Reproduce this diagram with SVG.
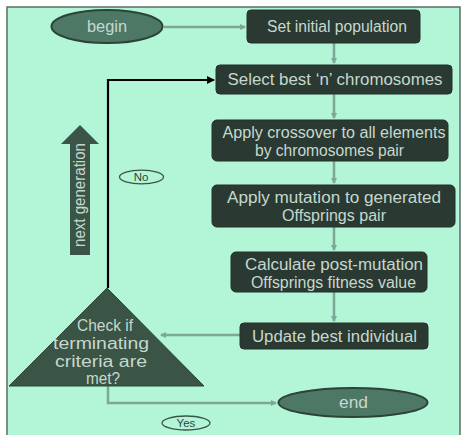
<svg xmlns="http://www.w3.org/2000/svg" width="463" height="435" viewBox="0 0 463 435">
  <style>
    .box { fill: #2a3a32; stroke: #22302a; stroke-width: 1; }
    .oval { fill: #4e7866; stroke: #2c4438; stroke-width: 2; }
    .tag { fill: none; stroke: #3a5448; stroke-width: 1.3; }
    .bt { font-family: "Liberation Sans", Arial, sans-serif; font-size: 16px; fill: #c6d8ce; text-anchor: middle; }
    .small { font-family: "Liberation Sans", Arial, sans-serif; font-size: 11.5px; fill: #2f463b; text-anchor: middle; }
    .flow { fill: none; stroke: #7ea797; stroke-width: 2.5; }
    .loop { fill: none; stroke: #000000; stroke-width: 2.2; }
  </style>
  <defs>
    <marker id="ah" markerWidth="6" markerHeight="6" refX="5" refY="3" orient="auto" markerUnits="userSpaceOnUse">
      <path d="M0,0 L6,3 L0,6 Z" fill="#7ea797"/>
    </marker>
    <marker id="ahb" markerWidth="8" markerHeight="8" refX="7" refY="4" orient="auto" markerUnits="userSpaceOnUse">
      <path d="M0,0 L8,4 L0,8 Z" fill="#000000"/>
    </marker>
  </defs>

  <!-- page background and frame -->
  <rect x="0" y="0" width="463" height="435" fill="#ffffff"/>
  <rect x="7" y="7" width="453" height="432" fill="#b2f5d7" stroke="#5c6e66" stroke-width="1.5"/>

  <!-- connectors -->
  <g id="connectors">
    <line class="flow" x1="164" y1="27" x2="245" y2="27" marker-end="url(#ah)"/>
    <line class="flow" x1="334" y1="43" x2="334" y2="63" marker-end="url(#ah)"/>
    <line class="flow" x1="334" y1="94" x2="334" y2="118" marker-end="url(#ah)"/>
    <line class="flow" x1="334" y1="161" x2="334" y2="183" marker-end="url(#ah)"/>
    <line class="flow" x1="334" y1="227" x2="334" y2="250" marker-end="url(#ah)"/>
    <line class="flow" x1="334" y1="292" x2="334" y2="321" marker-end="url(#ah)"/>
    <line class="flow" x1="240" y1="335" x2="161" y2="335" marker-end="url(#ah)"/>
    <polyline class="flow" points="108,386 108,403 276,403" marker-end="url(#ah)"/>
    <polyline class="loop" points="108,288 108,80 214,80" marker-end="url(#ahb)"/>
  </g>

  <!-- next generation indicator -->
  <g id="next-generation">
    <path d="M80,125 L99,144 L90,144 L90,255 L70,255 L70,144 L61,144 Z" fill="#3a5548"/>
    <text class="bt" font-size="14" transform="translate(85,195) rotate(-90)" textLength="104" lengthAdjust="spacingAndGlyphs">next generation</text>
  </g>

  <g id="begin">
    <ellipse class="oval" cx="107" cy="26.5" rx="55.5" ry="16.5"/>
    <text class="bt" x="107" y="32" textLength="40" lengthAdjust="spacingAndGlyphs">begin</text>
  </g>

  <g id="set-population">
    <rect class="box" x="247" y="10" width="173" height="33" rx="4"/>
    <text class="bt" x="337" y="32" textLength="140" lengthAdjust="spacingAndGlyphs">Set initial population</text>
  </g>

  <g id="select-best">
    <rect class="box" x="216" y="65" width="236" height="29" rx="4"/>
    <text class="bt" x="335" y="85" textLength="215" lengthAdjust="spacingAndGlyphs">Select best ‘n’ chromosomes</text>
  </g>

  <g id="crossover">
    <rect class="box" x="212" y="120" width="236" height="41" rx="5"/>
    <text class="bt" x="334" y="138" textLength="223" lengthAdjust="spacingAndGlyphs">Apply crossover to all elements</text>
    <text class="bt" x="329.5" y="156" textLength="149" lengthAdjust="spacingAndGlyphs">by chromosomes pair</text>
  </g>

  <g id="mutation">
    <rect class="box" x="212" y="185" width="243" height="42" rx="5"/>
    <text class="bt" x="334" y="203" textLength="214" lengthAdjust="spacingAndGlyphs">Apply mutation to generated</text>
    <text class="bt" x="334" y="221" textLength="104" lengthAdjust="spacingAndGlyphs">Offsprings pair</text>
  </g>

  <g id="fitness">
    <rect class="box" x="231" y="252" width="196" height="40" rx="5"/>
    <text class="bt" x="334" y="270" textLength="178" lengthAdjust="spacingAndGlyphs">Calculate post-mutation</text>
    <text class="bt" x="333.5" y="288" textLength="165" lengthAdjust="spacingAndGlyphs">Offsprings fitness value</text>
  </g>

  <g id="update-best">
    <rect class="box" x="240" y="323" width="188" height="26" rx="4"/>
    <text class="bt" x="334.5" y="342" textLength="165" lengthAdjust="spacingAndGlyphs">Update best individual</text>
  </g>

  <g id="check-criteria">
    <polygon points="107,288 204,386 9,386" fill="#3a5446" stroke="#2c4438" stroke-width="1"/>
    <text class="bt" x="105" y="331" textLength="56" lengthAdjust="spacingAndGlyphs">Check if</text>
    <text class="bt" x="101" y="349" textLength="96" lengthAdjust="spacingAndGlyphs">terminating</text>
    <text class="bt" x="101" y="367" textLength="92" lengthAdjust="spacingAndGlyphs">criteria are</text>
    <text class="bt" x="103" y="384" textLength="34" lengthAdjust="spacingAndGlyphs">met?</text>
  </g>

  <g id="end">
    <ellipse class="oval" cx="353" cy="402.5" rx="74.5" ry="14.5"/>
    <text class="bt" x="353.5" y="408" textLength="29" lengthAdjust="spacingAndGlyphs">end</text>
  </g>

  <g id="label-no">
    <ellipse class="tag" cx="141.5" cy="177" rx="22" ry="6.8"/>
    <text class="small" x="141" y="181">No</text>
  </g>

  <g id="label-yes">
    <ellipse class="tag" cx="186" cy="423" rx="24" ry="7"/>
    <text class="small" x="186" y="427">Yes</text>
  </g>
</svg>
